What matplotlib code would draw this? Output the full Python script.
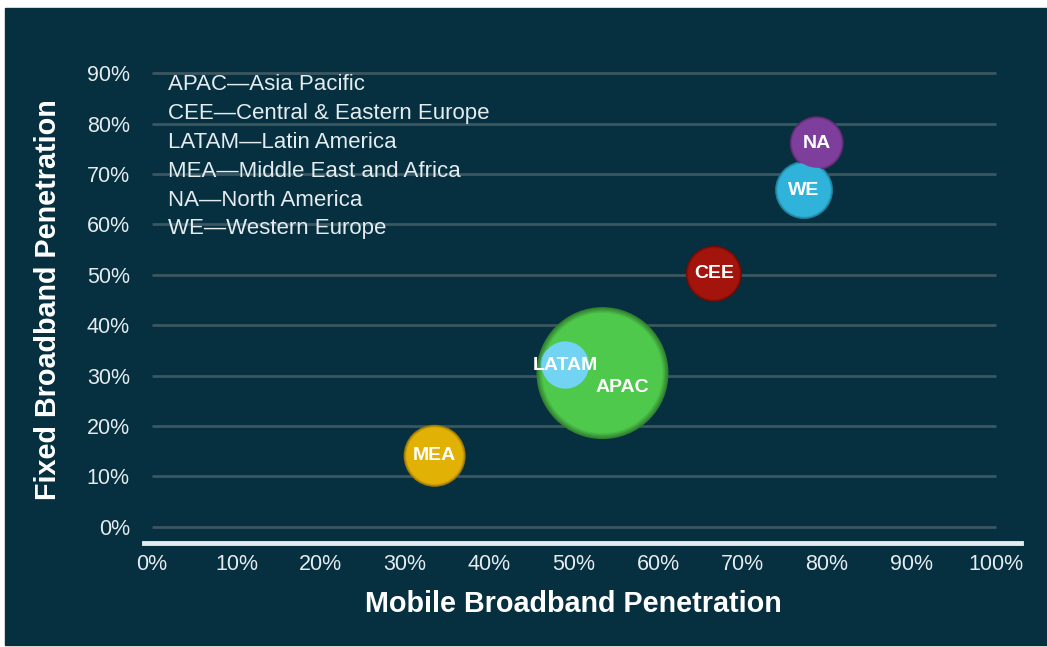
import numpy as np
import matplotlib.pyplot as plt
from matplotlib.patches import Rectangle
from matplotlib.colors import to_rgb

# regions, mobile vs fixed broadband penetration (%)
regions = ["MEA", "APAC", "LATAM", "CEE", "WE", "NA"]
mobile = [33.5, 53.4, 49.0, 66.6, 77.3, 78.8]
fixed = [14.1, 30.5, 32.1, 50.2, 66.8, 76.1]
bubble_size = [31, 66, 26, 28, 29, 27]   # relative bubble radius
colors = ["#e2b106", "#4ec94c", "#72d3f2", "#a3140c", "#2fb3da", "#7e3f9c"]
label_dx = [0, 2.4, 0, 0, 0, 0]
label_dy = [0, -2.9, 0, 0, 0, 0]

legend_lines = ["APAC\u2014Asia Pacific",
                "CEE\u2014Central & Eastern Europe",
                "LATAM\u2014Latin America",
                "MEA\u2014Middle East and Africa",
                "NA\u2014North America",
                "WE\u2014Western Europe"]

xticks = np.arange(0, 101, 10)
yticks = np.arange(0, 91, 10)

bg = "#062f40"
fg = "#e4ecef"
plt.rcParams['font.family'] = ['Liberation Sans', 'DejaVu Sans']

fig = plt.figure(figsize=(10.47, 6.47), dpi=100, facecolor="white")
fig.patches.append(Rectangle((5/1047, 2/647), 1 - 5/1047, 1 - 10/647,
                             transform=fig.transFigure, color=bg, zorder=-5))
ax = fig.add_axes([0.1372, 0.1607, 0.975 - 0.1372, 0.9026 - 0.1607])
ax.set_facecolor("none")
ax.set_xlim(-1, 103)
ax.set_ylim(-3.2, 92)

# horizontal gridlines only across 0-100
ax.hlines(yticks, 0, 100, color="#3b5760", lw=2, zorder=1)

for s in ["top", "right", "left"]:
    ax.spines[s].set_visible(False)
ax.spines["bottom"].set_color(fg)
ax.spines["bottom"].set_linewidth(3.5)

ax.set_xticks(xticks)
ax.set_xticklabels([f"{v}%" for v in xticks])
ax.set_yticks(yticks)
ax.set_yticklabels([f"{v}%" for v in yticks])
ax.tick_params(length=0, colors=fg, labelsize=15.5)
ax.tick_params(axis="x", pad=8)
ax.tick_params(axis="y", pad=10)

# bubbles, radius in pixels -> points^2; soft darker rim for a shaded look
r = np.array(bubble_size)
sizes = (2 * r * 72 / fig.dpi) ** 2
steps = 8
for i in range(steps):
    t = i / (steps - 1)
    shade = 0.62 + 0.38 * t
    layer = [tuple(c * shade for c in to_rgb(col)) for col in colors]
    frac = 1.0 - 0.09 * t
    ax.scatter(mobile, fixed, s=sizes * frac ** 2, c=layer, linewidths=0,
               zorder=3 + i * 0.01)

for name, x, y, dx, dy in zip(regions, mobile, fixed, label_dx, label_dy):
    ax.text(x + dx, y + dy, name, color="white", fontsize=14, weight="bold",
            ha="center", va="center", zorder=5)

for i, line in enumerate(legend_lines):
    fig.text(168/1047, 1 - (84 + i * 29) / 647, line, color=fg, fontsize=16,
             ha="left", va="center")

fig.text(573/1047, 1 - 604/647, "Mobile Broadband Penetration", color="white",
         fontsize=20.7, weight="bold", ha="center", va="center")
fig.text(48/1047, 1 - 300/647, "Fixed Broadband Penetration", color="white",
         fontsize=20.7, weight="bold", rotation=90, ha="center", va="center")

plt.savefig("out.png", dpi=100, facecolor=fig.get_facecolor())
